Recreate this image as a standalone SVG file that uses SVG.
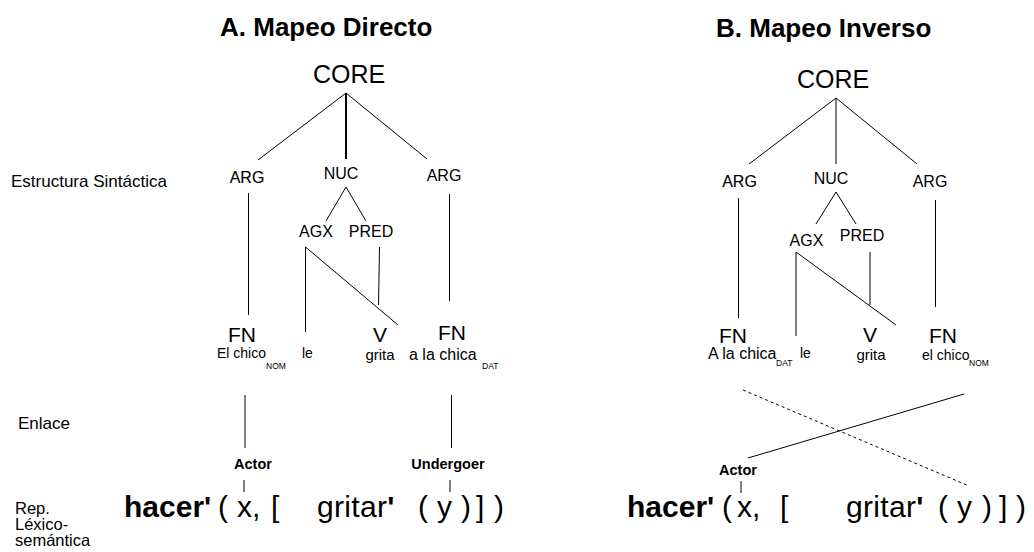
<svg xmlns="http://www.w3.org/2000/svg" width="1034" height="552" viewBox="0 0 1034 552">
<style>
text{font-family:"Liberation Sans",Arial,sans-serif;fill:#000}
.title{font-size:26px;font-weight:bold}
.lbl{font-size:17px}
.lbs{font-size:16.5px}
.core{font-size:25px;text-anchor:middle}
.n{font-size:16px;text-anchor:middle}
.dk{stroke:#000;stroke-width:0.15}
.fn{font-size:21px;text-anchor:middle}
.w{font-size:14px}
.wl{font-size:16px}
.wm{font-size:15px;text-anchor:middle}
.sub{font-size:8.5px}
.role{font-size:14.5px;font-weight:bold;text-anchor:middle}
.f{font-size:30px}
.b{font-weight:bold}
line{stroke:#000;stroke-width:1;fill:none}
.thick{stroke-width:2}
.dash{stroke-dasharray:3,3}
</style>
<rect width="1034" height="552" fill="#fff"/>
<g id="titles">
<text class="title" x="220" y="36">A. Mapeo Directo</text>
<text class="title" x="716" y="37">B. Mapeo Inverso</text>
</g>
<g id="side-labels">
<text class="lbl" x="11" y="187">Estructura Sintáctica</text>
<text class="lbl" x="18" y="429">Enlace</text>
<text class="lbs" x="15" y="514">Rep.</text>
<text class="lbs" x="15" y="530">Léxico-</text>
<text class="lbs" x="15" y="546">semántica</text>
</g>
<g id="connectors">
<!-- A -->
<line x1="346" y1="93" x2="258" y2="160"/>
<line class="thick" x1="346" y1="93" x2="346" y2="159"/>
<line x1="346" y1="93" x2="427" y2="159"/>
<line x1="248.5" y1="193" x2="248.5" y2="315"/>
<line x1="346" y1="187" x2="326" y2="221"/>
<line x1="346" y1="187" x2="366" y2="221"/>
<line x1="305.5" y1="247" x2="305.5" y2="332"/>
<line x1="305.5" y1="247" x2="398" y2="325"/>
<line x1="379.5" y1="247" x2="378.5" y2="305"/>
<line x1="449.5" y1="194" x2="449.5" y2="301"/>
<line x1="245" y1="395" x2="245" y2="448"/>
<line x1="451.5" y1="395" x2="451.5" y2="448"/>
<line x1="244" y1="480" x2="244" y2="492"/>
<line x1="450" y1="480" x2="450" y2="492"/>
<!-- B -->
<line x1="836" y1="98" x2="749" y2="164"/>
<line x1="836" y1="98" x2="836" y2="164"/>
<line x1="836" y1="98" x2="917" y2="164"/>
<line x1="738.5" y1="198" x2="738.5" y2="318"/>
<line x1="836" y1="192" x2="816" y2="224"/>
<line x1="836" y1="192" x2="856" y2="224"/>
<line x1="796" y1="252" x2="796" y2="336"/>
<line x1="796" y1="252" x2="896" y2="325"/>
<line x1="870" y1="252" x2="870" y2="305"/>
<line x1="935.5" y1="200" x2="935.5" y2="307"/>
<line class="dash" x1="743" y1="390" x2="969" y2="486"/>
<line x1="964" y1="394" x2="748" y2="458"/>
<line x1="741" y1="481" x2="741" y2="493"/>
</g>
<g id="a-core"><text class="core" x="349" y="83">CORE</text></g>
<g id="a-arg1"><text class="n dk" x="247" y="183">ARG</text></g>
<g id="a-nuc"><text class="n" x="341" y="179">NUC</text></g>
<g id="a-arg2"><text class="n" x="444" y="181">ARG</text></g>
<g id="a-agx"><text class="n" x="316" y="237">AGX</text></g>
<g id="a-pred"><text class="n" x="371" y="237">PRED</text></g>
<g id="a-fn1"><text class="fn" x="242" y="342">FN</text><text class="w" x="217" y="358">El chico</text><text class="sub" x="266" y="369">NOM</text></g>
<g id="a-le"><text class="w" x="302" y="358">le</text></g>
<g id="a-v"><text class="fn" x="380" y="342">V</text><text class="wm" x="380" y="360">grita</text></g>
<g id="a-fn2"><text class="fn" x="452" y="340">FN</text><text class="wl" x="409" y="360">a la chica</text><text class="sub" x="482" y="369">DAT</text></g>
<g id="a-actor"><text class="role" x="253" y="469">Actor</text></g>
<g id="a-undergoer"><text class="role" x="448" y="469">Undergoer</text></g>
<g id="a-formula">
<text class="f"><tspan class="b" x="124" y="517">hacer'</tspan><tspan x="218" y="517">(</tspan><tspan x="237" y="517">x,</tspan><tspan x="271" y="517">[</tspan><tspan x="317" y="517" textLength="70">gritar</tspan><tspan class="b">'</tspan><tspan x="418" y="517">(</tspan><tspan x="437" y="517">y</tspan><tspan x="461" y="517">)</tspan><tspan x="476" y="517">]</tspan><tspan x="494" y="517">)</tspan></text>
</g>
<g id="b-core"><text class="core" x="833" y="88">CORE</text></g>
<g id="b-arg1"><text class="n dk" x="739.5" y="187">ARG</text></g>
<g id="b-nuc"><text class="n" x="831" y="184">NUC</text></g>
<g id="b-arg2"><text class="n" x="930" y="187">ARG</text></g>
<g id="b-agx"><text class="n" x="806.5" y="246">AGX</text></g>
<g id="b-pred"><text class="n" x="862" y="241">PRED</text></g>
<g id="b-fn1"><text class="fn" x="733" y="343">FN</text><text class="wl" x="708" y="359">A la chica</text><text class="sub" x="776" y="366">DAT</text></g>
<g id="b-le"><text class="w" x="800" y="358">le</text></g>
<g id="b-v"><text class="fn" x="870" y="342">V</text><text class="wm" x="871" y="359.5">grita</text></g>
<g id="b-fn2"><text class="fn" x="943" y="343">FN</text><text class="w" x="922" y="359.5">el chico</text><text class="sub" x="969" y="366">NOM</text></g>
<g id="b-actor"><text class="role" x="738" y="475">Actor</text></g>
<g id="b-formula">
<text class="f"><tspan class="b" x="627" y="517">hacer'</tspan><tspan x="722" y="517">(</tspan><tspan x="737" y="517">x,</tspan><tspan x="780" y="517">[</tspan><tspan x="846" y="517" textLength="70">gritar</tspan><tspan class="b">'</tspan><tspan x="938" y="517">(</tspan><tspan x="957" y="517">y</tspan><tspan x="982" y="517">)</tspan><tspan x="999" y="517">]</tspan><tspan x="1016" y="517">)</tspan></text>
</g>
</svg>
